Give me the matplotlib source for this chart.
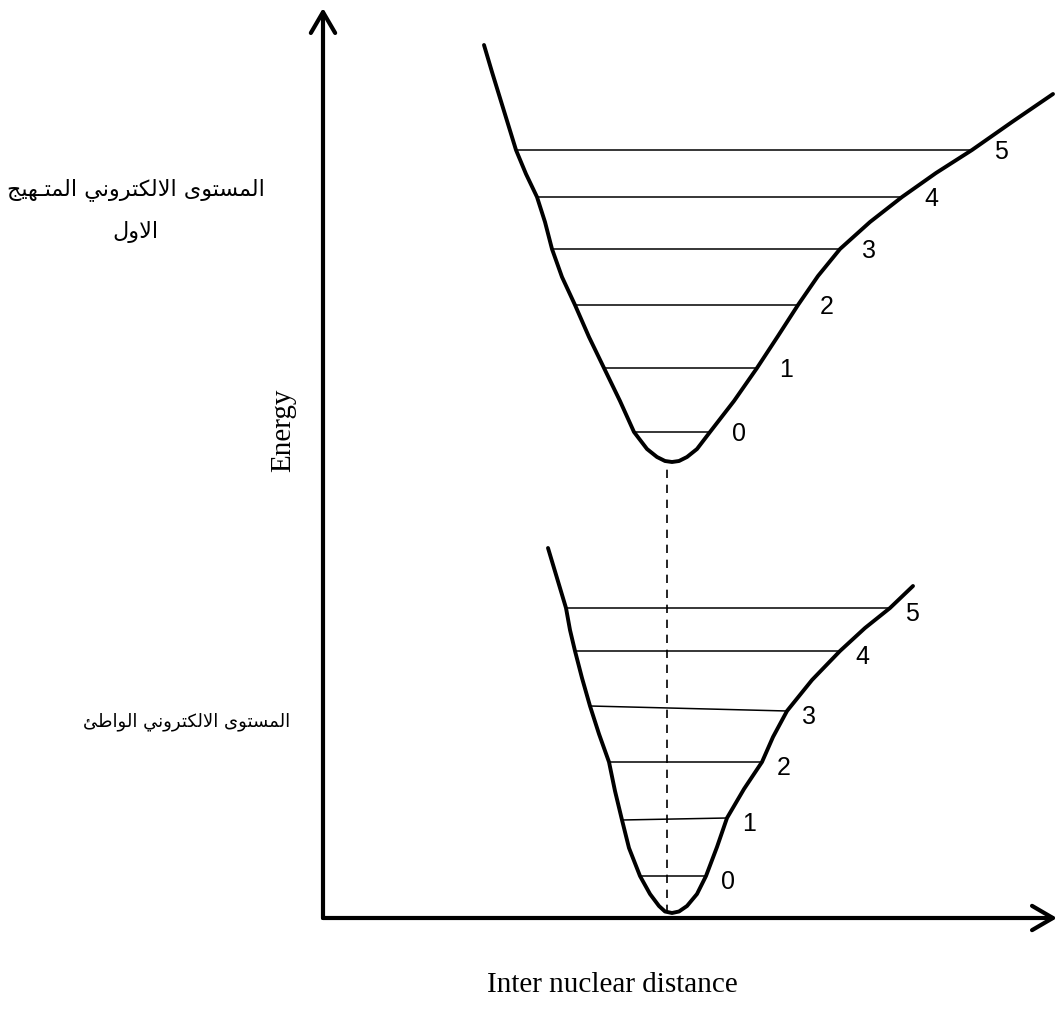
import matplotlib
matplotlib.use("Agg")
import matplotlib.pyplot as plt

# potential energy curves (inter nuclear distance, energy) in diagram units
upper_r = [161, 169, 177, 185, 193, 203, 214, 222, 229, 239, 252, 266, 281, 297, 311,
           324, 334, 342, 349, 356, 364, 374, 387, 411, 434, 455, 475, 495, 517,
           547, 579, 613, 649, 689, 730]
upper_e = [873, 846, 820, 794, 768, 744, 721, 696, 669, 641, 613, 581, 550, 517, 486,
           469, 461, 457, 456, 457, 461, 469, 486, 517, 550, 582, 613, 642, 669,
           696, 721, 745, 768, 796, 824]

lower_r = [225, 234, 243, 247, 252, 259, 267, 276, 286, 292, 299, 306, 317,
           327, 336, 342, 349, 356, 364, 374, 383, 394, 404, 421, 439, 450, 464,
           489, 517, 542, 567, 590]
lower_e = [370, 340, 310, 288, 267, 240, 212, 184, 156, 127, 98, 70, 42,
           24, 12, 6.5, 5, 6.5, 12, 24, 42, 71, 100, 129, 156, 181, 207,
           238, 267, 290, 310, 332]

# vibrational levels v = 0..5
v_labels = ["0", "1", "2", "3", "4", "5"]
upper_lvl_e = [486, 550, 613, 669, 721, 768]
upper_lvl_left = [311, 281, 252, 229, 214, 193]
upper_lvl_right = [387, 434, 475, 517, 579, 649]

lower_lvl_e_left = [42, 98, 156, 212, 267, 310]
lower_lvl_e_right = [42, 100, 156, 207, 267, 310]
lower_lvl_left = [317, 299, 286, 267, 252, 243]
lower_lvl_right = [383, 404, 439, 464, 517, 567]

r_eq = 344

upper_name = ["المستوى الالكتروني المتـهيج", "الاول"]
lower_name = "المستوى الالكتروني الواطئ"


# matplotlib has no arabic shaping, so pick presentation forms by hand
FORMS = {
    "ا": ("\uFE8D", "\uFE8E", None, None),
    "ل": ("\uFEDD", "\uFEDE", "\uFEDF", "\uFEE0"),
    "م": ("\uFEE1", "\uFEE2", "\uFEE3", "\uFEE4"),
    "س": ("\uFEB1", "\uFEB2", "\uFEB3", "\uFEB4"),
    "ت": ("\uFE95", "\uFE96", "\uFE97", "\uFE98"),
    "و": ("\uFEED", "\uFEEE", None, None),
    "ى": ("\uFEEF", "\uFEF0", "\uFBE8", "\uFBE9"),
    "ك": ("\uFED9", "\uFEDA", "\uFEDB", "\uFEDC"),
    "ر": ("\uFEAD", "\uFEAE", None, None),
    "ن": ("\uFEE5", "\uFEE6", "\uFEE7", "\uFEE8"),
    "ي": ("\uFEF1", "\uFEF2", "\uFEF3", "\uFEF4"),
    "ه": ("\uFEE9", "\uFEEA", "\uFEEB", "\uFEEC"),
    "ج": ("\uFE9D", "\uFE9E", "\uFE9F", "\uFEA0"),
    "ط": ("\uFEC1", "\uFEC2", "\uFEC3", "\uFEC4"),
    "ئ": ("\uFE89", "\uFE8A", "\uFE8B", "\uFE8C"),
    "ـ": ("\u0640", "\u0640", "\u0640", "\u0640"),
    "لا": ("\uFEFB", "\uFEFC", None, None),
}


def shape(text):
    letters = []
    i = 0
    while i < len(text):
        if text[i:i + 2] == "لا":
            letters.append("لا")
            i += 2
        else:
            letters.append(text[i])
            i += 1
    out = []
    for k, ch in enumerate(letters):
        if ch not in FORMS:
            out.append(ch)
            continue
        f = FORMS[ch]
        prev = letters[k - 1] if k > 0 else None
        nxt = letters[k + 1] if k + 1 < len(letters) else None
        jp = prev in FORMS and FORMS[prev][2] is not None
        jn = nxt in FORMS and f[2] is not None
        if jp and jn:
            out.append(f[3])
        elif jp:
            out.append(f[1])
        elif jn:
            out.append(f[2])
        else:
            out.append(f[0])
    return "".join(out)[::-1]


fig = plt.figure(figsize=(10.59, 10.19), dpi=100)
ax = fig.add_axes([0, 0, 1, 1])
ax.set_xlim(-323, 736)
ax.set_ylim(-101, 918)
ax.axis("off")

# axes with open arrow heads
arrow = dict(arrowstyle="->,head_length=0.6,head_width=0.35", lw=3, color="black",
             mutation_scale=25, shrinkA=0, shrinkB=0)
ax.annotate("", xy=(0, 910), xytext=(0, 0), arrowprops=arrow)
ax.annotate("", xy=(734, 0), xytext=(0, 0), arrowprops=arrow)

# curves
curve = dict(color="black", lw=2.8, solid_capstyle="round", solid_joinstyle="round")
ax.plot(upper_r, upper_e, **curve)
ax.plot(lower_r, lower_e, **curve)

# vibrational levels
num_font = dict(family=["Liberation Sans Narrow", "Liberation Sans"], fontsize=18)
for lab, e, x0, x1 in zip(v_labels, upper_lvl_e, upper_lvl_left, upper_lvl_right):
    ax.plot([x0, x1], [e, e], color="black", lw=1.1)
    ax.text(x1 + 22, e - 2, lab, ha="left", va="center", **num_font)
for lab, e0, e1, x0, x1 in zip(v_labels, lower_lvl_e_left, lower_lvl_e_right,
                               lower_lvl_left, lower_lvl_right):
    ax.plot([x0, x1], [e0, e1], color="black", lw=1.1)
    ax.text(x1 + 15, e1 - 6, lab, ha="left", va="center", **num_font)

# dashed line joining the two minima
ax.plot([r_eq, r_eq], [min(lower_e), min(upper_e)], color="black", lw=1.2,
        linestyle=(0, (5, 4)))

# labels
ax.text(-40, 488, "Energy", rotation=90, ha="center", va="center",
        family="Liberation Serif", fontsize=21)
ax.text(289, -67, "Inter nuclear distance", ha="center", va="center",
        family="Liberation Serif", fontsize=21)

ax.text(-187, 728, shape(upper_name[0]), ha="center", va="center",
        family=["DejaVu Sans"], fontsize=16)
ax.text(-188, 686, shape(upper_name[1]), ha="center", va="center",
        family=["DejaVu Sans"], fontsize=16)
ax.text(-136, 196, shape(lower_name), ha="center", va="center",
        family=["DejaVu Sans"], fontsize=13)

fig.savefig("out.png", dpi=100, facecolor="white")
